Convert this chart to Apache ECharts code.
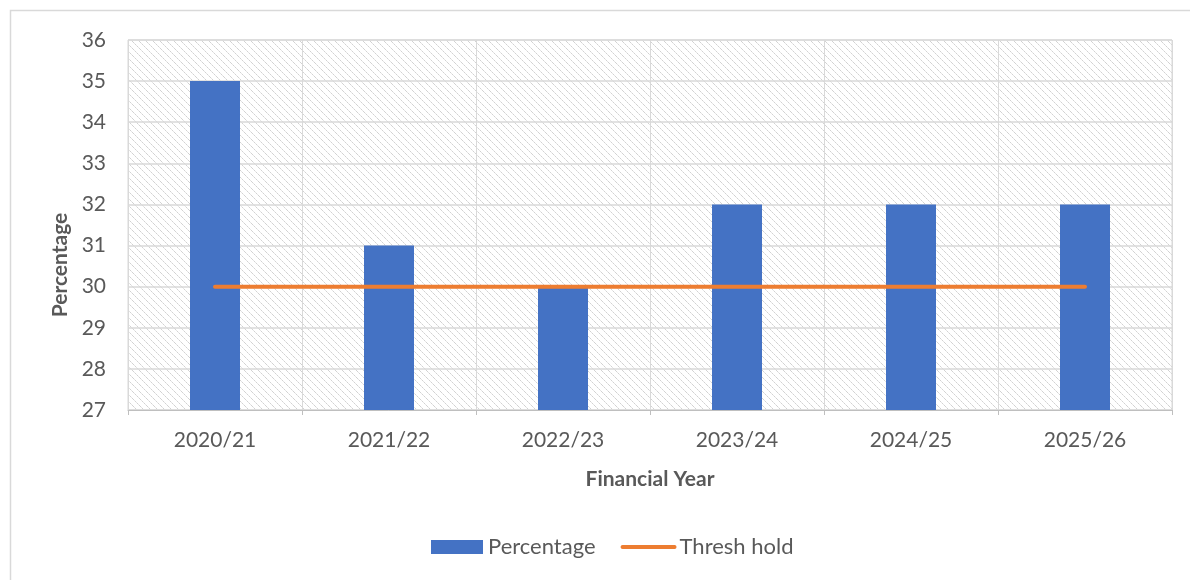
<!DOCTYPE html>
<html>
<head>
<meta charset="utf-8">
<script src="https://cdn.jsdelivr.net/npm/echarts@6/dist/echarts.min.js"></script>
<style>
  html, body { margin: 0; padding: 0; background: #ffffff; }
  #chart { width: 1190px; height: 580px; }
</style>
</head>
<body>
<div id="chart"></div>
<script>
// Financial years on the category axis
const years = ['2020/21', '2021/22', '2022/23', '2023/24', '2024/25', '2025/26'];
// Percentage per financial year
const percentage = [35, 31, 30, 32, 32, 32];
// Threshold level, same for every year
const threshold = [30, 30, 30, 30, 30, 30];
// Value axis range
const yMin = 27;
const yMax = 36;
const yStep = 1;

// Light diagonal hatch used as the plot-area fill
function hatchPattern() {
  const size = 7;
  const c = document.createElement('canvas');
  c.width = size; c.height = size;
  const ctx = c.getContext('2d');
  ctx.fillStyle = '#ffffff';
  ctx.fillRect(0, 0, size, size);
  for (let i = 0; i < size; i++) {
    ctx.fillStyle = (i % 2 === 0) ? '#d2d2d2' : '#e4e4e4';
    ctx.fillRect(i, i, 1, 1);
  }
  return c;
}

const font = 'Lato, "Noto Sans", sans-serif';
const chart = echarts.init(document.getElementById('chart'), null, { renderer: 'canvas' });

chart.setOption({
  animation: false,
  backgroundColor: '#ffffff',
  textStyle: { fontFamily: font },
  graphic: [{
    type: 'rect',
    shape: { x: 10.5, y: 10.5, width: 1200, height: 600 },
    style: { fill: 'none', stroke: '#d9d9d9', lineWidth: 1.5 },
    silent: true,
    z: -10
  }],
  grid: {
    left: 128, right: 18, top: 40, bottom: 170,
    show: true,
    backgroundColor: { image: hatchPattern(), repeat: 'repeat' },
    borderColor: '#d9d9d9',
    borderWidth: 1
  },
  legend: {
    bottom: 17,
    left: 426,
    itemWidth: 52,
    itemHeight: 14,
    itemGap: 25,
    textStyle: { fontSize: 22, color: '#595959', fontFamily: font },
    data: [
      { name: 'Percentage', icon: 'rect' },
      { name: 'Thresh hold', itemStyle: { opacity: 0 }, lineStyle: { width: 4, cap: 'round' } }
    ]
  },
  xAxis: {
    type: 'category',
    data: years,
    boundaryGap: true,
    name: 'Financial Year',
    nameLocation: 'middle',
    nameGap: 59,
    nameTextStyle: { fontSize: 21, fontWeight: 'bold', color: '#595959', fontFamily: font },
    axisLine: { show: true, lineStyle: { color: '#bfbfbf', width: 1 } },
    axisTick: { show: true, length: 5, lineStyle: { color: '#bfbfbf' } },
    axisLabel: { fontSize: 21, color: '#595959', margin: 20, fontFamily: font },
    splitLine: { show: true, lineStyle: { color: '#d9d9d9', width: 1 } }
  },
  yAxis: {
    type: 'value',
    min: yMin,
    max: yMax,
    interval: yStep,
    name: 'Percentage',
    nameLocation: 'middle',
    nameGap: 56,
    nameRotate: 90,
    nameTextStyle: { fontSize: 21, fontWeight: 'bold', color: '#595959', fontFamily: font, padding: [0, 80, 0, 0] },
    axisLine: { show: false },
    axisTick: { show: false },
    axisLabel: { fontSize: 21, color: '#595959', margin: 22, fontFamily: font },
    splitLine: { show: true, lineStyle: { color: '#d9d9d9', width: 1.5 } }
  },
  series: [
    {
      name: 'Percentage',
      type: 'bar',
      data: percentage,
      barWidth: 50,
      itemStyle: { color: '#4472c4' },
      z: 2
    },
    {
      name: 'Thresh hold',
      type: 'line',
      data: threshold,
      symbol: 'none',
      lineStyle: { color: '#ed7d31', width: 4, cap: 'round' },
      itemStyle: { color: '#ed7d31' },
      z: 3
    }
  ]
});
</script>
</body>
</html>
